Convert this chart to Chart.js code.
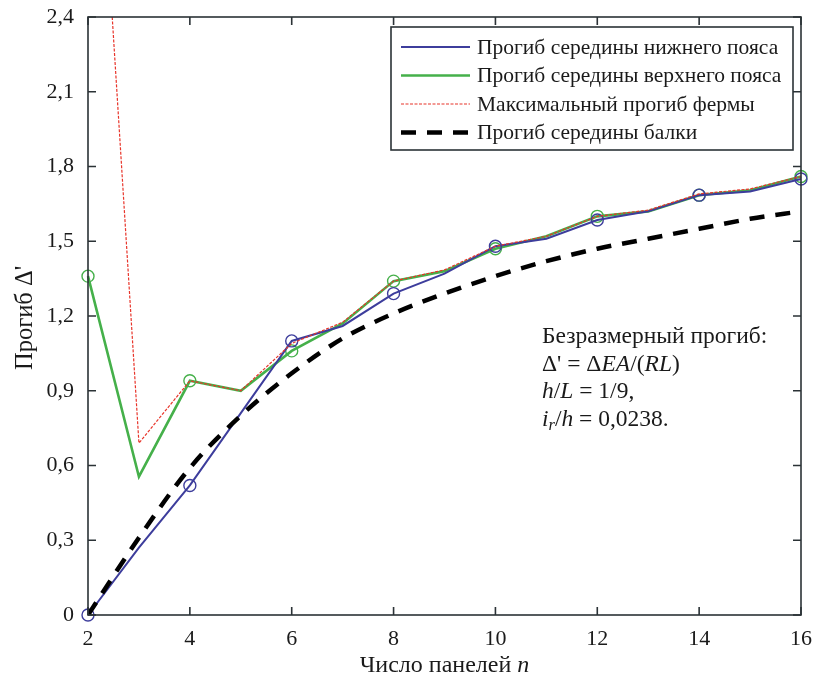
<!DOCTYPE html>
<html>
<head>
<meta charset="utf-8">
<script src="https://cdn.jsdelivr.net/npm/chart.js@4.4.1/dist/chart.umd.min.js"></script>
<style>
  html, body { margin: 0; padding: 0; background: #fff; }
  #wrap { width: 816px; height: 690px; }
</style>
</head>
<body>
<div id="wrap"><canvas id="deflChart" width="816" height="690"></canvas></div>
<script>
// Данные: число панелей и безразмерные прогибы
const panels = [2, 3, 4, 5, 6, 7, 8, 9, 10, 11, 12, 13, 14, 15, 16];
const bottomChord = [0, 0.27, 0.52, 0.81, 1.10, 1.16, 1.29, 1.37, 1.48, 1.51, 1.585, 1.62, 1.685, 1.70, 1.75];
const topChord = [1.36, 0.555, 0.94, 0.90, 1.06, 1.17, 1.34, 1.38, 1.47, 1.52, 1.60, 1.62, 1.685, 1.705, 1.76];
const trussMax = [3.95, 0.69, 0.94, 0.90, 1.09, 1.175, 1.34, 1.385, 1.48, 1.52, 1.60, 1.625, 1.69, 1.71, 1.76];
const beamMid = [0, 0.31, 0.59, 0.80, 0.97, 1.11, 1.21, 1.29, 1.36, 1.42, 1.47, 1.51, 1.55, 1.59, 1.62];
const seriesLabels = [
    'Прогиб середины нижнего пояса',
    'Прогиб середины верхнего пояса',
    'Максимальный прогиб фермы',
    'Прогиб середины балки'
];
const xTicks = [2, 4, 6, 8, 10, 12, 14, 16];
const yTicks = [0, 0.3, 0.6, 0.9, 1.2, 1.5, 1.8, 2.1, 2.4];

const colors = {
    blue: '#3d3d9c',
    green: '#45b04a',
    red: '#e8342a',
    black: '#000000',
    frame: '#2b3236',
    text: '#1a1a1a'
};
const SERIF = '"Liberation Serif", "DejaVu Serif", serif';

function toPoints(values) {
    return panels.map((n, i) => ({ x: n, y: values[i] }));
}
// кружки только на чётных n
function markerRadius() {
    return panels.map(n => (n % 2 === 0 ? 6 : 0));
}
function fmt(v) {
    if (v === 0) return '0';
    return v.toFixed(1).replace('.', ',');
}

// Текст со сменой начертания: [текст, курсив, индекс]
function drawRich(ctx, runs, x, y, size, align) {
    const widths = runs.map(r => {
        const s = r[2] ? size * 0.7 : size;
        ctx.font = (r[1] ? 'italic ' : '') + s + 'px ' + SERIF;
        return ctx.measureText(r[0]).width;
    });
    const total = widths.reduce((a, b) => a + b, 0);
    let cx = align === 'center' ? x - total / 2 : x;
    runs.forEach((r, i) => {
        const s = r[2] ? size * 0.7 : size;
        ctx.font = (r[1] ? 'italic ' : '') + s + 'px ' + SERIF;
        ctx.fillText(r[0], cx, r[2] ? y + size * 0.25 : y);
        cx += widths[i];
    });
}

const framePlugin = {
    id: 'framePlugin',
    afterDraw(chart) {
        const ctx = chart.ctx;
        const a = chart.chartArea;
        const xs = chart.scales.x;
        const ys = chart.scales.y;
        ctx.save();
        ctx.strokeStyle = colors.frame;
        ctx.lineWidth = 1.6;
        ctx.strokeRect(a.left, a.top, a.right - a.left, a.bottom - a.top);
        // внутренние засечки
        ctx.beginPath();
        xTicks.forEach(v => {
            const px = xs.getPixelForValue(v);
            ctx.moveTo(px, a.bottom); ctx.lineTo(px, a.bottom - 8);
            ctx.moveTo(px, a.top); ctx.lineTo(px, a.top + 8);
        });
        yTicks.forEach(v => {
            const py = ys.getPixelForValue(v);
            ctx.moveTo(a.left, py); ctx.lineTo(a.left + 8, py);
            ctx.moveTo(a.right, py); ctx.lineTo(a.right - 8, py);
        });
        ctx.stroke();

        // легенда
        const ds = chart.data.datasets;
        const lw = 402, lh = 123;
        const lx = a.right - 8 - lw, ly = a.top + 10;
        ctx.fillStyle = '#fff';
        ctx.fillRect(lx, ly, lw, lh);
        ctx.strokeStyle = colors.frame;
        ctx.lineWidth = 1.6;
        ctx.strokeRect(lx, ly, lw, lh);
        ds.forEach((d, i) => {
            const ry = ly + 20 + i * 28.5;
            ctx.beginPath();
            ctx.strokeStyle = d.borderColor;
            ctx.lineWidth = d.borderWidth;
            ctx.setLineDash(d.borderDash || []);
            ctx.moveTo(lx + 10, ry); ctx.lineTo(lx + 79, ry);
            ctx.stroke();
            ctx.setLineDash([]);
            ctx.fillStyle = colors.text;
            ctx.textBaseline = 'middle';
            ctx.font = '21.5px ' + SERIF;
            ctx.fillText(d.label, lx + 86, ry + 1);
        });

        // подпись с параметрами
        ctx.fillStyle = colors.text;
        ctx.textBaseline = 'middle';
        const tx = 542;
        drawRich(ctx, [['Безразмерный прогиб:', false]], tx, 337, 23.5);
        drawRich(ctx, [["Δ' = Δ", false], ['EA', true], ['/(', false], ['RL', true], [')', false]], tx, 365, 23.5);
        drawRich(ctx, [['h', true], ['/', false], ['L', true], [' = 1/9,', false]], tx, 392, 23.5);
        drawRich(ctx, [['i', true], ['r', true, true], ['/', false], ['h', true], [' = 0,0238.', false]], tx, 420, 23.5);

        // подписи осей
        drawRich(ctx, [['Число панелей ', false], ['n', true]], (a.left + a.right) / 2, 666, 24, 'center');
        ctx.translate(26, 318);
        ctx.rotate(-Math.PI / 2);
        drawRich(ctx, [["Прогиб Δ'", false]], 0, 0, 24.5, 'center');
        ctx.restore();
    }
};

function initDeflectionChart() {
    const ctx = document.getElementById('deflChart');
    if (!ctx) return;

    new Chart(ctx, {
        type: 'line',
        data: {
            datasets: [{
                label: seriesLabels[0],
                data: toPoints(bottomChord),
                borderColor: colors.blue,
                borderWidth: 2,
                pointRadius: markerRadius(),
                pointBorderColor: colors.blue,
                pointBackgroundColor: 'transparent',
                pointBorderWidth: 1.4,
                clip: 10,
                order: 2
            }, {
                label: seriesLabels[1],
                data: toPoints(topChord),
                borderColor: colors.green,
                borderWidth: 2.6,
                pointRadius: markerRadius(),
                pointBorderColor: colors.green,
                pointBackgroundColor: 'transparent',
                pointBorderWidth: 1.4,
                clip: 10,
                order: 3
            }, {
                label: seriesLabels[2],
                data: toPoints(trussMax),
                borderColor: colors.red,
                borderWidth: 1.2,
                borderDash: [3, 1.5],
                pointRadius: 0,
                clip: 0,
                order: 1
            }, {
                label: seriesLabels[3],
                data: toPoints(beamMid),
                borderColor: colors.black,
                borderWidth: 4.5,
                borderDash: [15, 11],
                pointRadius: 0,
                cubicInterpolationMode: 'monotone',
                clip: 0,
                order: 0
            }]
        },
        options: {
            responsive: false,
            animation: false,
            events: [],
            layout: { padding: { top: 17, right: 15, left: 0, bottom: 0 } },
            plugins: {
                legend: { display: false },
                tooltip: { enabled: false }
            },
            scales: {
                x: {
                    type: 'linear',
                    min: 2,
                    max: 16,
                    afterFit: s => { s.height = 75; s.paddingLeft = 0; s.paddingRight = 0; },
                    afterBuildTicks: s => { s.ticks = xTicks.map(v => ({ value: v })); },
                    grid: { display: false, drawTicks: false },
                    border: { display: false },
                    ticks: {
                        padding: 11,
                        color: colors.text,
                        font: { family: SERIF, size: 22 }
                    }
                },
                y: {
                    min: 0,
                    max: 2.4,
                    afterFit: s => { s.width = 88; s.paddingTop = 0; s.paddingBottom = 0; },
                    afterBuildTicks: s => { s.ticks = yTicks.map(v => ({ value: v })); },
                    grid: { display: false, drawTicks: false },
                    border: { display: false },
                    ticks: {
                        padding: 14,
                        color: colors.text,
                        font: { family: SERIF, size: 22 },
                        callback: v => fmt(v)
                    }
                }
            }
        },
        plugins: [framePlugin]
    });
}

document.addEventListener('DOMContentLoaded', initDeflectionChart);
</script>
</body>
</html>
